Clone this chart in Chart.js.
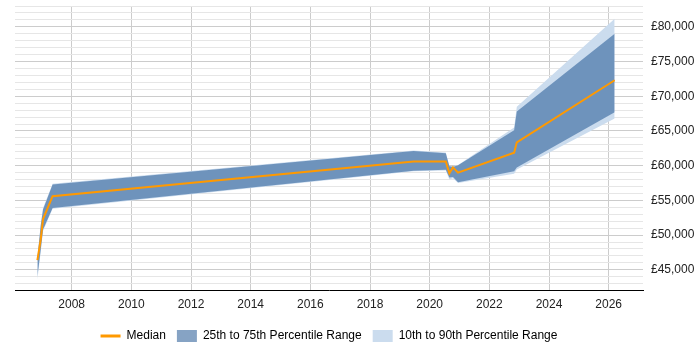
<!DOCTYPE html>
<html lang="en">
<head>
  <meta charset="UTF-8" />
  <title>Salary trend</title>
  <script src="https://cdn.jsdelivr.net/npm/chart.js"></script>
  <style>
    html, body { margin: 0; padding: 0; background: #fff; }
    #wrap { width: 700px; height: 350px; }
  </style>
</head>
<body>
  <div id="wrap"><canvas id="trend"></canvas></div>

  <script>
    // dates as decimal years
    const years = [2006.85, 2006.96, 2007.04, 2007.36, 2019.46, 2020.54, 2020.66, 2020.78, 2020.95, 2022.83, 2022.92, 2026.20];
    const median = [46400, 49300, 52300, 55600, 60600, 60600, 58900, 59750, 59000, 61850, 63350, 72300];
    const p25 = [44000, 47800, 50800, 53900, 59250, 59400, 58300, 58350, 57600, 59200, 59750, 67700];
    const p75 = [46600, 51300, 53700, 57300, 62100, 61800, 59900, 59800, 60050, 65100, 67800, 79000];
    const p10 = [43600, 47500, 50600, 53800, 59200, 59300, 58000, 58200, 57500, 58850, 59450, 66800];
    const p90 = [46700, 51500, 53900, 57400, 62200, 61900, 60000, 59900, 60100, 65500, 68500, 81150];

    const xTicks = [2008, 2010, 2012, 2014, 2016, 2018, 2020, 2022, 2024, 2026];
    const yLabels = [45000, 50000, 55000, 60000, 65000, 70000, 75000, 80000];

    const orange = "#ff9900";
    const darkBand = "rgba(35, 88, 148, 0.55)";
    const lightBand = "#cbdcee";

    const pts = arr => arr.map((v, i) => ({ x: years[i], y: v }));

    const yGrid = [];
    for (let v = 42000; v <= 83000; v += 1000) yGrid.push(v);

    Chart.defaults.font.family = "'Liberation Sans', Arial, sans-serif";
    Chart.defaults.font.size = 12;
    Chart.defaults.color = "#222";

    new Chart(document.getElementById("trend"), {
      type: "line",
      data: {
        datasets: [
          { label: "Median", data: pts(median), borderColor: orange, borderWidth: 2, pointRadius: 0, tension: 0, fill: false },
          { label: "p75", data: pts(p75), borderWidth: 0, pointRadius: 0, tension: 0, backgroundColor: darkBand, fill: "+1" },
          { label: "p25", data: pts(p25), borderWidth: 0, pointRadius: 0, tension: 0, fill: false },
          { label: "p90", data: pts(p90), borderWidth: 0, pointRadius: 0, tension: 0, backgroundColor: lightBand, fill: "+1" },
          { label: "p10", data: pts(p10), borderWidth: 0, pointRadius: 0, tension: 0, fill: false }
        ]
      },
      options: {
        responsive: true,
        maintainAspectRatio: false,
        animation: false,
        layout: { padding: { left: 15, right: 0, top: 6, bottom: -2 } },
        scales: {
          x: {
            type: "linear",
            min: 2006.1,
            max: 2027.15,
            afterBuildTicks: axis => { axis.ticks = xTicks.map(v => ({ value: v })); },
            ticks: { autoSkip: false, maxRotation: 0, padding: 7, callback: v => String(v) },
            grid: { color: "#cccccc", drawTicks: false },
            border: { display: true, color: "#000", width: 1 }
          },
          y: {
            position: "right",
            min: 42000,
            max: 83000,
            afterBuildTicks: axis => { axis.ticks = yGrid.map(v => ({ value: v })); },
            afterFit: axis => {
              axis.width = 57;
              axis.paddingTop = 0;
              axis.paddingBottom = 0;
            },
            ticks: {
              autoSkip: false,
              padding: 8,
              callback: v => yLabels.includes(v) ? "£" + v.toLocaleString("en-GB") : ""
            },
            grid: {
              drawTicks: false,
              color: ctx => (ctx.tick && ctx.tick.value % 5000 === 0) ? "#cccccc" : "#e6e6e6"
            },
            border: { display: false }
          }
        },
        plugins: {
          tooltip: { enabled: false },
          legend: {
            position: "bottom",
            fullSize: false,
            labels: {
              boxWidth: 20,
              boxHeight: 12,
              usePointStyle: true,
              pointStyleWidth: 20,
              padding: 11,
              color: "#222",
              generateLabels: () => [
                { text: "Median", pointStyle: "line", strokeStyle: orange, fillStyle: orange, lineWidth: 3 },
                { text: "25th to 75th Percentile Range", pointStyle: "rect", fillStyle: "#86a3c4", strokeStyle: "#86a3c4", lineWidth: 0 },
                { text: "10th to 90th Percentile Range", pointStyle: "rect", fillStyle: lightBand, strokeStyle: lightBand, lineWidth: 0 }
              ]
            }
          }
        }
      }
    });
  </script>
</body>
</html>
